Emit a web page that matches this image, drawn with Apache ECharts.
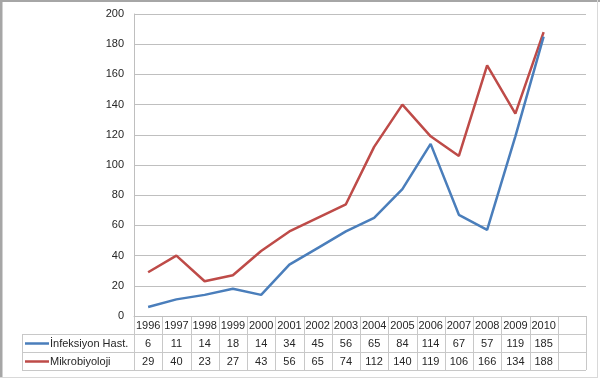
<!DOCTYPE html>
<html>
<head>
<meta charset="utf-8">
<script src="https://cdn.jsdelivr.net/npm/echarts@6/dist/echarts.min.js"></script>
<style>
html,body{margin:0;padding:0;background:#fff;}
#c{width:600px;height:392px;}
</style>
</head>
<body>
<div id="c"></div>
<script>
const years = ['1996','1997','1998','1999','2000','2001','2002','2003','2004','2005','2006','2007','2008','2009','2010',''];
const seriesNames = ['İnfeksiyon Hast.', 'Mikrobiyoloji'];
const infeksiyon = [6, 11, 14, 18, 14, 34, 45, 56, 65, 84, 114, 67, 57, 119, 185];
const mikrobiyoloji = [29, 40, 23, 27, 43, 56, 65, 74, 112, 140, 119, 106, 166, 134, 188];
const yTicks = {min: 0, max: 200, interval: 20};

const colors = ['#4a7ebb', '#be4b48'];
const font = 'Liberation Sans';
const fs = 11;
const txt = '#262626';
const chart = echarts.init(document.getElementById('c'), null, {renderer: 'canvas'});

const GRID = {left: 134, right: 14, top: 14, bottom: 76};
function cellLabel(arr) {
  return {
    interval: 0, fontFamily: font, fontSize: fs, color: txt,
    formatter: (v, i) => (i < arr.length ? String(arr[i]) : '')
  };
}
chart.setOption({
  animation: false,
  backgroundColor: '#fff',
  grid: Object.assign({}, GRID),
  xAxis: [
    {type: 'category', data: years, boundaryGap: true, position: 'bottom',
     axisLine: {show: true, lineStyle: {color: '#bfbfbf', width: 1}}, axisTick: {show: false},
     axisLabel: {interval: 0, fontFamily: font, fontSize: fs, color: txt, margin: 4}},
    {type: 'category', data: years, boundaryGap: true, position: 'bottom', offset: 18,
     axisLine: {show: false}, axisTick: {show: false},
     axisLabel: Object.assign(cellLabel(infeksiyon), {margin: 4})},
    {type: 'category', data: years, boundaryGap: true, position: 'bottom', offset: 36,
     axisLine: {show: false}, axisTick: {show: false},
     axisLabel: Object.assign(cellLabel(mikrobiyoloji), {margin: 4})}
  ],
  yAxis: {
    type: 'value', min: yTicks.min, max: yTicks.max, interval: yTicks.interval,
    axisLine: {show: true, lineStyle: {color: '#bfbfbf', width: 1}},
    axisTick: {show: false},
    axisLabel: {fontFamily: font, fontSize: fs, color: txt, margin: 10},
    splitLine: {lineStyle: {color: '#bfbfbf', width: 1}}
  },
  series: [
    {name: seriesNames[0], type: 'line', data: infeksiyon, symbol: 'none',
     lineStyle: {color: colors[0], width: 2.5}, z: 3},
    {name: seriesNames[1], type: 'line', data: mikrobiyoloji, symbol: 'none',
     lineStyle: {color: colors[1], width: 2.5}, z: 2}
  ]
});

// Data table grid + legend keys
const c0 = chart.convertToPixel({xAxisIndex: 0}, 0);
const c1 = chart.convertToPixel({xAxisIndex: 0}, 1);
const bw = c1 - c0;
const x0 = c0 - bw / 2;
const xEnd = x0 + bw * years.length;
const yTop = chart.convertToPixel({yAxisIndex: 0}, 0);
const rowH = 18;
const labelLeft = 22;
const lineColor = '#c8c8c8';
const els = [];
function hline(xa, xb, y) {
  els.push({type: 'line', shape: {x1: xa, y1: y, x2: xb, y2: y}, style: {stroke: lineColor, lineWidth: 1}, silent: true});
}
function vline(x, ya, yb) {
  els.push({type: 'line', shape: {x1: x, y1: ya, x2: x, y2: yb}, style: {stroke: lineColor, lineWidth: 1}, silent: true});
}
hline(x0, xEnd, Math.round(yTop) + 0.5);
for (let r = 1; r <= 3; r++) hline(labelLeft, xEnd, Math.round(yTop + rowH * r) + 0.5);
for (let k = 0; k <= years.length; k++) vline(Math.round(x0 + bw * k) + 0.5, yTop, yTop + rowH * 3);
vline(labelLeft + 0.5, yTop + rowH, yTop + rowH * 3);
seriesNames.forEach((n, i) => {
  const cy = Math.round(yTop + rowH * (i + 1) + rowH / 2) + 0.5;
  els.push({type: 'line', shape: {x1: 25, y1: cy, x2: 49, y2: cy}, style: {stroke: colors[i], lineWidth: 2.5}, silent: true});
  els.push({type: 'text', x: 50, y: cy, style: {text: n, fontFamily: font, fontSize: fs, fill: txt, verticalAlign: 'middle', align: 'left'}, silent: true});
});
// frame
els.push({type: 'line', shape: {x1: 0, y1: 1, x2: 600, y2: 1}, style: {stroke: '#a6a6a6', lineWidth: 2}, silent: true});
els.push({type: 'line', shape: {x1: 1, y1: 0, x2: 1, y2: 378}, style: {stroke: '#a6a6a6', lineWidth: 3}, silent: true});
els.push({type: 'line', shape: {x1: 597.5, y1: 0, x2: 597.5, y2: 378}, style: {stroke: '#d9d9d9', lineWidth: 1}, silent: true});
els.push({type: 'line', shape: {x1: 0, y1: 377.5, x2: 598, y2: 377.5}, style: {stroke: '#d9d9d9', lineWidth: 1}, silent: true});
chart.setOption({graphic: {elements: els}});
</script>
</body>
</html>
